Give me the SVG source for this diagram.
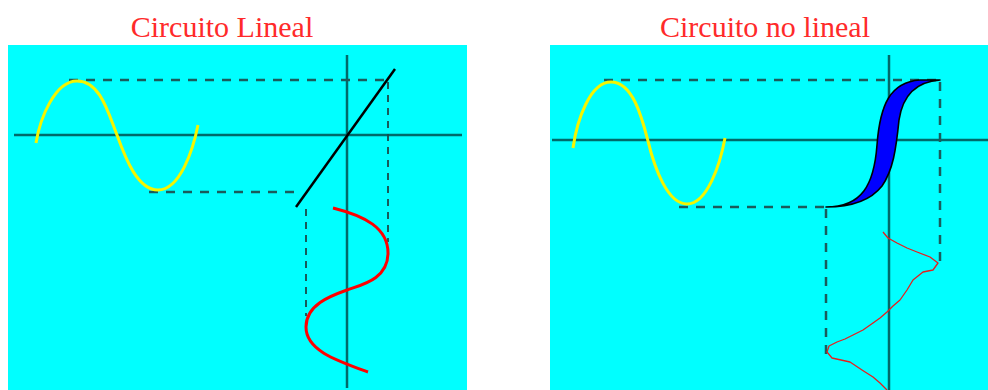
<svg xmlns="http://www.w3.org/2000/svg" width="988" height="390" viewBox="0 0 988 390">
<style>
.title{font-family:"Liberation Serif","Times New Roman",serif;font-size:30px;fill:#ff2a2a;text-anchor:middle}
.bg{fill:#00ffff}
.axis{stroke:#006a6a;stroke-width:2.5;fill:none}
.dash{stroke:#1a5c5c;stroke-width:2.5;stroke-dasharray:9,8;fill:none}
.dashv{stroke:#1a4a4a;stroke-width:1.8;stroke-dasharray:7,6;fill:none}
.yel{stroke:#f5f500;stroke-width:3;fill:none}
</style>
<rect width="988" height="390" fill="#ffffff"/>
<g id="panel-lineal">
<rect class="bg" x="8" y="45" width="459" height="345"/>
<text class="title" x="222" y="37">Circuito Lineal</text>
<g id="axes-left">
<line class="axis" x1="14" y1="135" x2="462" y2="135"/>
<line class="axis" x1="347" y1="55" x2="347" y2="388"/>
</g>
<g id="connectors-left">
<line class="dash" x1="69" y1="80" x2="389" y2="80"/>
<line class="dash" x1="149" y1="192" x2="296" y2="192"/>
<line class="dashv" x1="388" y1="82" x2="388" y2="242"/>
<line class="dashv" x1="306" y1="209" x2="306" y2="316"/>
</g>
<path id="input-left" class="yel" d="M36,143 C40,118 55,81 77,81 C100,81 108,112 117,135 C126,160 138,190 158,190 C180,190 193,150 198,125"/>
<line id="transfer-left" x1="296" y1="207" x2="395" y2="69" stroke="#000" stroke-width="2.5"/>
<path id="output-left" d="M333,208 C365,216 388,228 388,253 C388,280 360,285 347,290 C330,296 306,305 306,327 C306,350 335,360 368,372" stroke="#ff0000" stroke-width="3" fill="none"/>
</g>
<g id="panel-nolineal">
<rect class="bg" x="550" y="45" width="438" height="345"/>
<text class="title" x="765" y="37">Circuito no lineal</text>
<g id="axes-right">
<line class="axis" x1="552" y1="140" x2="988" y2="140"/>
<line class="axis" x1="889" y1="55" x2="889" y2="390"/>
</g>
<g id="connectors-right">
<line class="dash" x1="604" y1="80" x2="940" y2="80"/>
<line class="dash" x1="679" y1="207" x2="827" y2="207"/>
<line class="dash" x1="940" y1="82" x2="940" y2="265"/>
<line class="dash" x1="826" y1="209" x2="826" y2="358"/>
</g>
<path id="input-right" class="yel" d="M573,148 C577,120 590,82 611,82 C633,82 642,118 648,141 C655,170 668,204 687,204 C707,204 720,165 725,138"/>
<path id="transfer-right" d="M826,207 C862,207 874,185 877,145 C880,105 890,82 920,80 L940,80 C912,82 902,100 899,120 C896,150 893,170 882,186 C871,200 852,207 826,207 Z" fill="#0000ff" stroke="#000" stroke-width="1.6" stroke-linejoin="round"/>
<path id="output-right" d="M883,232 L888,238 L897,243 L907,248 L917,252 L930,257 L938,263 L933,270 L923,272 L913,280 L907,290 L900,300 L893,306 L887,312 L880,318 L873,323 L863,330 L853,335 L845,339 L837,342 L829,346 L827,352 L832,358 L841,360 L850,362 L856,366 L862,370 L873,377 L880,383 L887,390" stroke="#e61e1e" stroke-width="1.3" fill="none" stroke-linejoin="round"/>
</g>
</svg>
